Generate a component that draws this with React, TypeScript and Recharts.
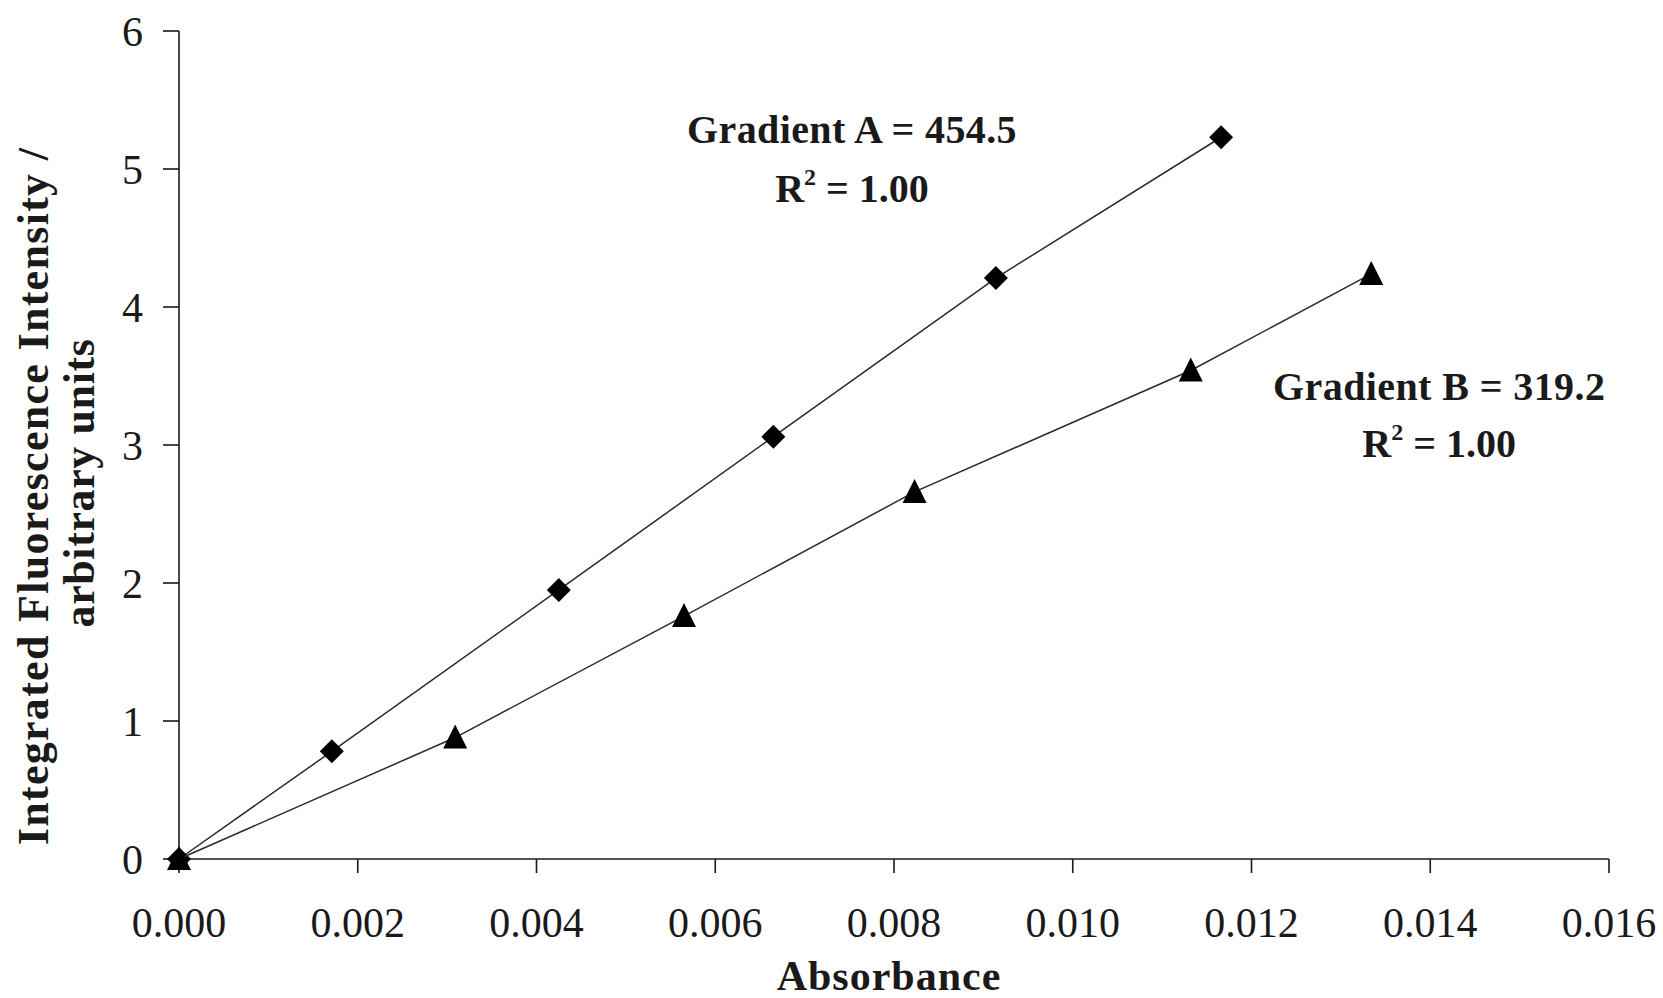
import {
  Label,
  ReferenceDot,
  Scatter,
  ScatterChart,
  XAxis,
  YAxis,
} from "recharts";

// Integrated fluorescence vs absorbance for two samples (A = diamonds, B = triangles)
const absorbanceA = [0, 0.00171, 0.00425, 0.00665, 0.00914, 0.01166];
const intensityA = [0, 0.78, 1.95, 3.06, 4.21, 5.23];

const absorbanceB = [0, 0.00309, 0.00565, 0.00823, 0.01132, 0.01334];
const intensityB = [0, 0.88, 1.76, 2.66, 3.54, 4.24];

const xTicks = [0, 0.002, 0.004, 0.006, 0.008, 0.01, 0.012, 0.014, 0.016];
const yTicks = [0, 1, 2, 3, 4, 5, 6];

// annotation anchors in data units (centre of first text line)
const annotations = [
  { key: "A", x: 0.00753, y: 5.29, title: "Gradient A = 454.5", r2: "1.00", gap: 59 },
  { key: "B", x: 0.0141, y: 3.43, title: "Gradient B = 319.2", r2: "1.00", gap: 57 },
];

const FONT = "'Liberation Serif', 'Times New Roman', serif";
const INK = "#1a1a1a";

const seriesA = absorbanceA.map((x, i) => ({ x, y: intensityA[i] }));
const seriesB = absorbanceB.map((x, i) => ({ x, y: intensityB[i] }));

const TICK = { fill: INK, fontSize: 42, fontFamily: FONT } as const;

function Diamond(props: any) {
  const { cx, cy } = props;
  const s = 12;
  return (
    <path
      d={`M${cx},${cy - s}L${cx + s},${cy}L${cx},${cy + s}L${cx - s},${cy}Z`}
      fill="#000"
    />
  );
}

function Triangle(props: any) {
  const { cx, cy } = props;
  const w = 12;
  return (
    <path
      d={`M${cx},${cy - 13}L${cx + w},${cy + 11}L${cx - w},${cy + 11}Z`}
      fill="#000"
    />
  );
}

function annotationContent(title: string, r2: string, gap: number) {
  return (props: any) => {
    const vb = props.viewBox ?? {};
    const cx = (vb.x ?? 0) + (vb.width ?? 0) / 2;
    const cy = (vb.y ?? 0) + (vb.height ?? 0) / 2;
    return (
      <g fontFamily={FONT} fontWeight="bold" fill={INK} textAnchor="middle">
        <text x={cx} y={cy + 14} fontSize={40} letterSpacing={0.4}>
          {title}
        </text>
        <text x={cx} y={cy + 14 + gap} fontSize={40}>
          R
          <tspan fontSize={24} dy={-17}>
            2
          </tspan>
          <tspan dy={17}>{` = ${r2}`}</tspan>
        </text>
      </g>
    );
  };
}

function YTitle() {
  return (
    <g fontFamily={FONT} fontWeight="bold" fill={INK} fontSize={44} textAnchor="middle">
      <text x={48} y={496} transform="rotate(-90 48 496)" letterSpacing={1.3}>
        Integrated Fluorescence Intensity /
      </text>
      <text x={94} y={483} transform="rotate(-90 94 483)" letterSpacing={0.6}>
        arbitrary units
      </text>
    </g>
  );
}

function XTitle() {
  return (
    <text
      x={889}
      y={990}
      fontFamily={FONT}
      fontWeight="bold"
      fontSize={42}
      letterSpacing={1}
      fill={INK}
      textAnchor="middle"
    >
      Absorbance
    </text>
  );
}

export default function App() {
  return (
    <div style={{ position: "absolute", left: 0, top: 0, background: "#fff" }}>
      <ScatterChart
        width={1663}
        height={998}
        margin={{ top: 31, right: 54, bottom: 0, left: 0 }}
      >
        <XAxis
          type="number"
          dataKey="x"
          domain={[0, 0.016]}
          ticks={xTicks}
          tickFormatter={(v: number) => v.toFixed(3)}
          tick={TICK}
          tickSize={14}
          tickMargin={34}
          height={139}
          stroke={INK}
          strokeWidth={1.6}
          allowDecimals
        >
          <Label content={<XTitle />} />
        </XAxis>
        <YAxis
          type="number"
          dataKey="y"
          domain={[0, 6]}
          ticks={yTicks}
          tick={TICK}
          tickSize={16}
          tickMargin={20}
          width={179}
          stroke={INK}
          strokeWidth={1.6}
        >
          <Label content={<YTitle />} />
        </YAxis>
        <Scatter
          name="A"
          data={seriesA}
          line={{ stroke: "#2a2a2a", strokeWidth: 1.5 }}
          lineType="joint"
          shape={<Diamond />}
          isAnimationActive={false}
        />
        <Scatter
          name="B"
          data={seriesB}
          line={{ stroke: "#2a2a2a", strokeWidth: 1.5 }}
          lineType="joint"
          shape={<Triangle />}
          isAnimationActive={false}
        />
        {annotations.map((a) => (
          <ReferenceDot
            key={a.key}
            x={a.x}
            y={a.y}
            r={1}
            fill="none"
            stroke="none"
            ifOverflow="visible"
          >
            <Label content={annotationContent(a.title, a.r2, a.gap)} />
          </ReferenceDot>
        ))}
      </ScatterChart>
    </div>
  );
}
